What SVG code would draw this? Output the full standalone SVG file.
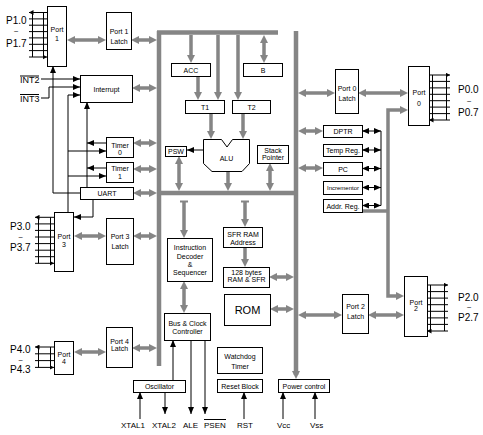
<svg xmlns="http://www.w3.org/2000/svg" width="483" height="435" viewBox="0 0 483 435">
<defs>
<marker id="ga" markerUnits="userSpaceOnUse" markerWidth="8" markerHeight="8" refX="4" refY="4" orient="auto-start-reverse"><path d="M0,0 L8,4 L0,8 z" fill="#858585"/></marker>
<marker id="ka" markerUnits="userSpaceOnUse" markerWidth="7" markerHeight="6" refX="7" refY="3" orient="auto-start-reverse"><path d="M0,0 L7,3 L0,6 z" fill="#000"/></marker>
<marker id="pa" markerUnits="userSpaceOnUse" markerWidth="4.5" markerHeight="5" refX="4.5" refY="2.5" orient="auto-start-reverse"><path d="M0,0 L4.5,2.5 L0,5 z" fill="#000"/></marker>
</defs>
<style>
.b{fill:#fff;stroke:#000;stroke-width:1}
.t{font-family:"Liberation Sans",Arial,sans-serif;font-size:7px;text-anchor:middle;fill:#000}
.l{font-family:"Liberation Sans",Arial,sans-serif;font-size:10px;fill:#000}
.w{font-family:"Liberation Sans",Arial,sans-serif;font-size:8px;text-anchor:middle;fill:#000}
.s{font-family:"Liberation Sans",Arial,sans-serif;font-size:8px;fill:#000}
.bus{stroke:#858585;stroke-width:4.5;fill:none}
.g{stroke:#858585;stroke-width:3.5;fill:none}
.g2{stroke:#858585;stroke-width:3.5;fill:none;marker-start:url(#ga);marker-end:url(#ga)}
.g1{stroke:#858585;stroke-width:3.5;fill:none;marker-end:url(#ga)}
.k{stroke:#000;stroke-width:1;fill:none}
.k1{stroke:#000;stroke-width:1;fill:none;marker-end:url(#ka)}
.k2{stroke:#000;stroke-width:1;fill:none;marker-start:url(#ka);marker-end:url(#ka)}
.p{stroke:#000;stroke-width:1;fill:none;marker-start:url(#pa);marker-end:url(#pa)}
</style>

<g id="connectors">
  <!-- buses -->
  <line class="bus" x1="159" y1="31" x2="159" y2="366"/>
  <line class="bus" x1="157" y1="32.5" x2="278" y2="32.5"/>
  <line class="bus" x1="296" y1="31" x2="296" y2="375" style="marker-end:url(#ga)"/>
  <line class="bus" x1="157" y1="193" x2="298" y2="193"/>

  <!-- gray arrows left side -->
  <line class="g2" x1="71" y1="40" x2="102" y2="40"/>
  <line class="g2" x1="135" y1="40" x2="153" y2="40"/>
  <line class="g2" x1="136" y1="88" x2="153" y2="88"/>
  <line class="g2" x1="137" y1="143" x2="153" y2="143"/>
  <line class="g2" x1="137" y1="169" x2="153" y2="169"/>
  <line class="g2" x1="137" y1="193" x2="153" y2="193"/>
  <line class="g2" x1="78" y1="236" x2="102" y2="236"/>
  <line class="g2" x1="137" y1="236" x2="153" y2="236"/>
  <line class="g2" x1="78" y1="352" x2="102" y2="352"/>
  <line class="g2" x1="136" y1="348" x2="153" y2="348"/>

  <!-- gray arrows centre -->
  <line class="g1" x1="191" y1="35" x2="191" y2="59"/>
  <line class="g2" x1="264" y1="39" x2="264" y2="59"/>
  <line class="g1" x1="218" y1="35" x2="218" y2="96"/>
  <line class="g1" x1="238" y1="35" x2="238" y2="96"/>
  <line class="g1" x1="198" y1="76" x2="198" y2="96"/>
  <line class="g1" x1="211" y1="113" x2="211" y2="135"/>
  <line class="g1" x1="243" y1="113" x2="243" y2="135"/>
  <line class="g1" x1="228" y1="172" x2="228" y2="187"/>
  <line class="g2" x1="179" y1="160" x2="179" y2="187"/>
  <line class="g2" x1="270" y1="167" x2="270" y2="187"/>
  <line class="g1" x1="184" y1="201" x2="184" y2="234"/>
  <line class="g" x1="180" y1="201.5" x2="188" y2="201.5" style="stroke-width:2"/>
  <line class="g1" x1="245" y1="201" x2="245" y2="223"/>
  <line class="g" x1="241" y1="201.5" x2="249" y2="201.5" style="stroke-width:2"/>
  <line class="g1" x1="245" y1="247" x2="245" y2="263"/>
  <line class="g2" x1="184" y1="285" x2="184" y2="309"/>
  <line class="g2" x1="273" y1="277" x2="290" y2="277"/>
  <line class="g2" x1="274" y1="309" x2="290" y2="309"/>

  <!-- gray arrows right side -->
  <line class="g2" x1="302" y1="315" x2="338" y2="315"/>
  <line class="g2" x1="372" y1="315" x2="400" y2="315"/>
  <line class="g2" x1="302" y1="93" x2="331" y2="93"/>
  <line class="g2" x1="362" y1="93" x2="404" y2="93"/>
  <line class="g2" x1="302" y1="131" x2="319" y2="131"/>
  <line class="g2" x1="302" y1="168" x2="319" y2="168"/>
  <path class="g2" d="M404,110 H388 V296 H400"/>
  <path class="g" d="M362,211 H388"/>

  <!-- black control lines -->
  <path class="k1" d="M41,79 H80"/>
  <path class="k1" d="M41,98 H49 V87 H80"/>
  <path class="k1" d="M68,212 V95 H80"/>
  <path class="k1" d="M68,151 H106"/>
  <path class="k1" d="M68,176 H106"/>
  <path class="k1" d="M87,187 V102"/>
  <path class="k1" d="M106,143 H87"/>
  <path class="k1" d="M106,168 H87"/>
  <path class="k1" d="M80,193 H53 V66"/>
  <path class="k1" d="M93,199 V217 H74"/>
  <path class="k1" d="M203,150 H187"/>
  <path class="k2" d="M362,131 H381"/>
  <path class="k2" d="M362,150 H381"/>
  <path class="k2" d="M362,168.5 H381"/>
  <path class="k2" d="M362,187.5 H381"/>
  <path class="k2" d="M362,205.5 H381"/>
  <path class="k" d="M381,131 V205.5"/>
  <path class="k1" d="M173,380 V340"/>
  <path class="k1" d="M140,419 V392"/>
  <path class="k1" d="M165,392 V414"/>
  <path class="k1" d="M191,340 V414"/>
  <path class="k1" d="M205,340 V414"/>
  <path class="k1" d="M244,419 V392"/>
  <path class="k1" d="M283,419 V392"/>
  <path class="k1" d="M315,419 V392"/>
</g>

<g id="port1">
  <rect class="b" x="47.5" y="6.5" width="19" height="60"/>
  <text class="t" x="57" y="31.5">Port</text>
  <text class="t" x="57" y="40.5">1</text>
  <path class="p" d="M29,12.5H47M29,18.9H47M29,25.2H47M29,31.6H47M29,37.9H47M29,44.3H47M29,50.6H47M29,57H47"/>
  <path class="k" d="M32.5,12.5V57M43.5,12.5V57"/>
  <text class="l" x="6" y="24">P1.0</text>
  <text class="w" x="16" y="34">~</text>
  <text class="l" x="6" y="46.5">P1.7</text>
</g>
<g id="port1latch">
  <rect class="b" x="106.5" y="12.5" width="25" height="37"/>
  <text class="t" x="119" y="34">Port 1</text>
  <text class="t" x="119" y="44">Latch</text>
</g>
<g id="int">
  <text class="s" x="20" y="83" style="font-size:9px">INT2</text>
  <line class="k" x1="20" y1="76" x2="39" y2="76"/>
  <text class="s" x="20" y="101.7" style="font-size:9px">INT3</text>
  <line class="k" x1="20" y1="94.5" x2="39" y2="94.5"/>
</g>
<g id="interrupt">
  <rect class="b" x="80.5" y="75.5" width="52" height="27"/>
  <text class="t" x="106.5" y="91.5">Interrupt</text>
</g>
<g id="timer0">
  <rect class="b" x="106.5" y="137.5" width="27" height="20"/>
  <text class="t" x="120" y="147.5">Timer</text>
  <text class="t" x="120" y="155">0</text>
</g>
<g id="timer1">
  <rect class="b" x="106.5" y="162.5" width="27" height="20"/>
  <text class="t" x="120" y="171">Timer</text>
  <text class="t" x="120" y="179">1</text>
</g>
<g id="uart">
  <rect class="b" x="80.5" y="187.5" width="53" height="12"/>
  <text class="t" x="107" y="196">UART</text>
</g>
<g id="port3">
  <rect class="b" x="54.5" y="212.5" width="19" height="59"/>
  <text class="t" x="64" y="239">Port</text>
  <text class="t" x="64" y="246.5">3</text>
  <path class="p" d="M35,217.3H54M35,223.9H54M35,230.4H54M35,237H54M35,243.6H54M35,250.2H54M35,256.7H54M35,263.3H54"/>
  <path class="k" d="M38.5,217.3V263.3M50.5,217.3V263.3"/>
  <text class="l" x="10" y="229.5">P3.0</text>
  <text class="w" x="20.5" y="239.5">~</text>
  <text class="l" x="10" y="250.7">P3.7</text>
</g>
<g id="port3latch">
  <rect class="b" x="106.5" y="218.5" width="27" height="46"/>
  <text class="t" x="120" y="239">Port 3</text>
  <text class="t" x="120" y="249">Latch</text>
</g>
<g id="port4">
  <rect class="b" x="54.5" y="341.5" width="19" height="33"/>
  <text class="t" x="64" y="356.5">Port</text>
  <text class="t" x="64" y="363.5">4</text>
  <path class="p" d="M35,347H54M35,353.8H54M35,360.6H54M35,367.4H54"/>
  <path class="k" d="M38.5,347V367.4M50.5,347V367.4"/>
  <text class="l" x="10" y="352.7">P4.0</text>
  <text class="w" x="20.5" y="362.5">~</text>
  <text class="l" x="10" y="373.3">P4.3</text>
</g>
<g id="port4latch">
  <rect class="b" x="106.5" y="327.5" width="26" height="40"/>
  <text class="t" x="119.5" y="344">Port 4</text>
  <text class="t" x="119.5" y="351">Latch</text>
</g>
<g id="acc">
  <rect class="b" x="171.5" y="63.5" width="39" height="13"/>
  <text class="t" x="191" y="72.5">ACC</text>
</g>
<g id="b">
  <rect class="b" x="243.5" y="63.5" width="39" height="13"/>
  <text class="t" x="263" y="72.5">B</text>
</g>
<g id="t1">
  <rect class="b" x="185.5" y="100.5" width="39" height="13"/>
  <text class="t" x="205" y="109.5">T1</text>
</g>
<g id="t2">
  <rect class="b" x="232.5" y="100.5" width="38" height="13"/>
  <text class="t" x="251.5" y="109.5">T2</text>
</g>
<g id="psw">
  <rect class="b" x="165.5" y="146.5" width="21" height="10"/>
  <text class="t" x="176" y="154">PSW</text>
</g>
<g id="alu">
  <polygon class="b" points="203.5,139.5 221.5,139.5 227,147 232.5,139.5 249.5,139.5 249.5,163.5 242,171.5 212,171.5 203.5,163.5"/>
  <text class="t" x="226.5" y="161">ALU</text>
</g>
<g id="sp">
  <rect class="b" x="257.5" y="145.5" width="31" height="18"/>
  <text class="t" x="273" y="152.5">Stack</text>
  <text class="t" x="273" y="160">Pointer</text>
</g>
<g id="idec">
  <rect class="b" x="167.5" y="238.5" width="45" height="43"/>
  <text class="t" x="190" y="250">Instruction</text>
  <text class="t" x="190" y="259">Decoder</text>
  <text class="t" x="190" y="266.5">&amp;</text>
  <text class="t" x="190" y="275">Sequencer</text>
</g>
<g id="sfr">
  <rect class="b" x="223.5" y="227.5" width="39" height="20"/>
  <text class="t" x="243" y="236.5">SFR RAM</text>
  <text class="t" x="243" y="244.5">Address</text>
</g>
<g id="ram">
  <rect class="b" x="223.5" y="267.5" width="46" height="20"/>
  <text class="t" x="246.5" y="275">128 bytes</text>
  <text class="t" x="246.5" y="282">RAM &amp; SFR</text>
</g>
<g id="rom">
  <rect class="b" x="224.5" y="294.5" width="46" height="31"/>
  <text class="t" x="247.5" y="313.5" style="font-size:11px">ROM</text>
</g>
<g id="busclock">
  <rect class="b" x="164.5" y="313.5" width="46" height="27"/>
  <text class="t" x="187.5" y="326">Bus &amp; Clock</text>
  <text class="t" x="187.5" y="334">Controller</text>
</g>
<g id="watchdog">
  <rect class="b" x="217.5" y="347.5" width="45" height="26"/>
  <text class="t" x="240" y="359">Watchdog</text>
  <text class="t" x="240" y="369">Timer</text>
</g>
<g id="reset">
  <rect class="b" x="217.5" y="379.5" width="45" height="13"/>
  <text class="t" x="240" y="388.5">Reset Block</text>
</g>
<g id="osc">
  <rect class="b" x="133.5" y="380.5" width="52" height="12"/>
  <text class="t" x="159.5" y="389">Oscillator</text>
</g>
<g id="power">
  <rect class="b" x="278.5" y="379.5" width="51" height="13"/>
  <text class="t" x="304" y="388.5">Power control</text>
</g>
<g id="pins-bottom">
  <text class="s" x="121" y="428">XTAL1</text>
  <text class="s" x="152" y="428">XTAL2</text>
  <text class="s" x="183" y="428">ALE</text>
  <text class="s" x="204" y="428">PSEN</text>
  <line class="k" x1="204" y1="419.5" x2="226" y2="419.5"/>
  <text class="s" x="237" y="428">RST</text>
  <text class="s" x="277" y="428">Vcc</text>
  <text class="s" x="310" y="428">Vss</text>
</g>
<g id="port0latch">
  <rect class="b" x="335.5" y="69.5" width="23" height="44"/>
  <text class="t" x="347" y="91">Port 0</text>
  <text class="t" x="347" y="101">Latch</text>
</g>
<g id="port0">
  <rect class="b" x="408.5" y="66.5" width="21" height="59"/>
  <text class="t" x="419" y="95">Port</text>
  <text class="t" x="419" y="105.5">0</text>
  <path class="p" d="M450,75H429M450,81.4H429M450,87.9H429M450,94.3H429M450,100.7H429M450,107.1H429M450,113.6H429M450,120H429"/>
  <path class="k" d="M432.5,75V120M446.5,75V120"/>
  <text class="l" x="458" y="92.7">P0.0</text>
  <text class="w" x="469" y="103.5">~</text>
  <text class="l" x="458" y="116">P0.7</text>
</g>
<g id="dptr">
  <rect class="b" x="323.5" y="125.5" width="39" height="12"/>
  <text class="t" x="343" y="134">DPTR</text>
</g>
<g id="tempreg">
  <rect class="b" x="323.5" y="144.5" width="39" height="12"/>
  <text class="t" x="343" y="153">Temp Reg.</text>
</g>
<g id="pc">
  <rect class="b" x="323.5" y="162.5" width="39" height="13"/>
  <text class="t" x="343" y="171.5">PC</text>
</g>
<g id="incrementor">
  <rect class="b" x="323.5" y="181.5" width="39" height="13"/>
  <text class="t" x="343" y="190" style="font-size:6px">Incrementor</text>
</g>
<g id="addrreg">
  <rect class="b" x="323.5" y="199.5" width="39" height="13"/>
  <text class="t" x="343" y="208.5">Addr. Reg.</text>
</g>
<g id="port2latch">
  <rect class="b" x="342.5" y="294.5" width="26" height="39"/>
  <text class="t" x="355.5" y="309">Port 2</text>
  <text class="t" x="355.5" y="319">Latch</text>
</g>
<g id="port2">
  <rect class="b" x="404.5" y="276.5" width="23" height="60"/>
  <text class="t" x="416" y="305">Port</text>
  <text class="t" x="416" y="311">2</text>
  <path class="p" d="M448,285H427M448,291.6H427M448,298.1H427M448,304.7H427M448,311.3H427M448,317.9H427M448,324.4H427M448,331H427"/>
  <path class="k" d="M430.5,285V331M444.5,285V331"/>
  <text class="l" x="458" y="300.7">P2.0</text>
  <text class="w" x="469" y="309.5">~</text>
  <text class="l" x="458" y="320.7">P2.7</text>
</g>
</svg>
